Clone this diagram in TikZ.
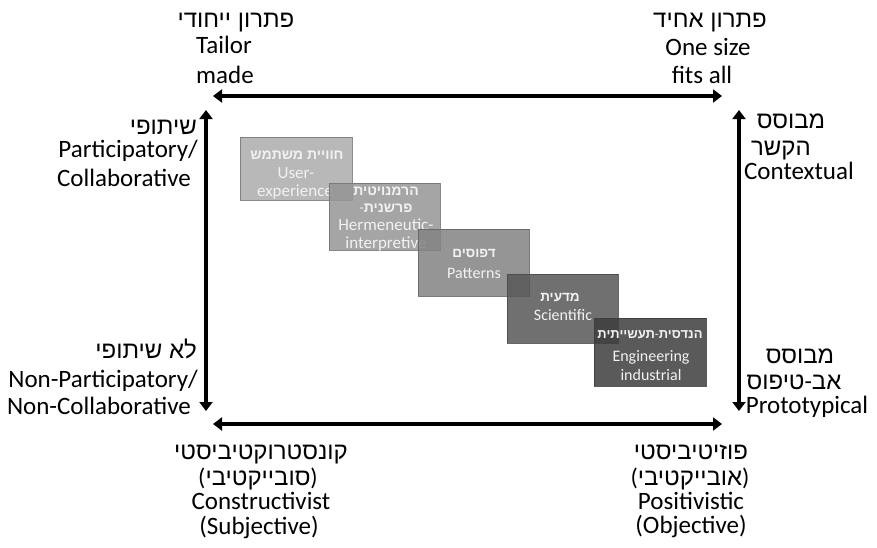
\documentclass[tikz,border=0pt]{standalone}
\usepackage{fontspec}
\setmainfont{Carlito}
\newfontfamily\heb[Script=Hebrew]{Liberation Sans}
\TeXXeTstate=1
\newcommand\hb[1]{{\heb\beginR #1\endR}}
\newcommand\hbb[1]{{\heb\bfseries\beginR #1\endR}}
\usetikzlibrary{arrows.meta}
\definecolor{bxA}{RGB}{171,171,171}
\definecolor{bxB}{RGB}{149,149,149}
\definecolor{bxC}{RGB}{131,131,131}
\definecolor{bxD}{RGB}{87,87,87}
\definecolor{bxE}{RGB}{61,61,61}
\definecolor{bdA}{RGB}{120,120,120}
\definecolor{bdB}{RGB}{115,115,115}
\definecolor{bdC}{RGB}{100,100,100}
\definecolor{bdD}{RGB}{75,75,75}
\definecolor{bdE}{RGB}{60,60,60}
\definecolor{btxt}{RGB}{242,242,242}
\begin{document}
\begin{tikzpicture}[x=1pt,y=-1pt,
  lbl/.style={font=\fontsize{25}{28}\selectfont, inner sep=0pt, anchor=base},
  lbh/.style={font=\fontsize{24}{28}\selectfont, inner sep=0pt, anchor=base},
  lble/.style={lbl, anchor=base east},
  lbhe/.style={lbh, anchor=base east},
  arr/.style={line width=4pt, {Triangle[width=13pt,length=9pt]}-{Triangle[width=13pt,length=9pt]}},
  cbox/.style={anchor=north west, minimum width=111pt, minimum height=66pt, inner sep=0pt, line width=0.8pt, fill opacity=0.85, draw opacity=0.85},
  btx/.style={font=\fontsize{16}{18}\selectfont, text=btxt, inner sep=0pt, anchor=base},
  btxl/.style={font=\fontsize{17}{18}\selectfont, text=btxt, inner sep=0pt, anchor=base},
  bth/.style={font=\fontsize{13.5}{16}\selectfont, text=btxt, inner sep=0pt, anchor=base}
]
\useasboundingbox (0,0) rectangle (877,547);

% arrows
\coordinate (tA) at (213,96);
\coordinate (tB) at (722,96);
\coordinate (bA) at (213,424);
\coordinate (bB) at (722,424);
\coordinate (lA) at (206,110);
\coordinate (lB) at (206,411);
\coordinate (rA) at (739,110);
\coordinate (rB) at (739,411);
\draw[arr] (tA) -- (tB);
\draw[arr] (bA) -- (bB);
\draw[arr] (lA) -- (lB);
\draw[arr] (rA) -- (rB);

% top left
\node[lbh] (tl1) at (236,27) {\hb{פתרון ייחודי}};
\node[lbl] (tl2) at (224,53) {Tailor};
\node[lbl] (tl3) at (225,83) {made};
% top right
\node[lbh] (tr1) at (710,27) {\hb{פתרון אחיד}};
\node[lbl] (tr2) at (708,55) {One size};
\node[lbl] (tr3) at (702,83) {fits all};
% left upper
\node[lbhe] (lu1) at (197,134) {\hb{שיתופי}};
\node[lble] (lu2) at (198,157) {Participatory/};
\node[lble] (lu3) at (191,186) {Collaborative};
% left lower
\node[lbhe] (ll1) at (197,358) {\hb{לא שיתופי}};
\node[lble] (ll2) at (198,387) {Non-Participatory/};
\node[lble] (ll3) at (191,414) {Non-Collaborative};
% right upper
\node[lbh] (ru1) at (791,128) {\hb{מבוסס}};
\node[lbh] (ru2) at (781,155) {\hb{הקשר}};
\node[lbl] (ru3) at (799,179) {Contextual};
% right lower
\node[lbh] (rl1) at (800,363) {\hb{מבוסס}};
\node[lbh] (rl2) at (794,389) {\hb{טיפוס}-\hb{אב}};
\node[lbl] (rl3) at (807,413) {Prototypical};
% bottom left
\node[lbh] (bl1) at (261,459) {\hb{קונסטרוקטיביסטי}};
\node[lbh] (bl2) at (258,485) {(\hb{סובייקטיבי})};
\node[lbl] (bl3) at (261,509) {Constructivist};
\node[lbl] (bl4) at (259,534) {(Subjective)};
% bottom right
\node[lbh] (br1) at (691,459) {\hb{פוזיטיביסטי}};
\node[lbh] (br2) at (690,485) {(\hb{אובייקטיבי})};
\node[lbl] (br3) at (691,509) {Positivistic};
\node[lbl] (br4) at (691,533) {(Objective)};

% boxes
\node[cbox, fill=bxA, draw=bdA, minimum height=63pt, minimum width=112pt] (b1) at (240,137) {};
\node[bth, font=\fontsize{14}{16}\selectfont] (b1a) at (297,159) {\hbb{חוויית משתמש}};
\node[btxl] (b1b) at (296,178) {User-};
\node[btxl] (b1c) at (295,196) {experience};

\node[cbox, fill=bxB, draw=bdB, minimum height=67pt] (b2) at (329,183) {};
\node[bth, font=\fontsize{14}{16}\selectfont] (b2a) at (386,195) {\hbb{הרמנויטית}};
\node[bth, font=\fontsize{14}{16}\selectfont] (b2b) at (386,212) {-\hbb{פרשנית}};
\node[btxl] (b2c) at (386,230) {Hermeneutic-};
\node[btxl] (b2d) at (386,248) {interpretive};

\node[cbox, fill=bxC, draw=bdC, minimum height=67pt] (b3) at (418,229) {};
\node[bth] (b3a) at (474,257) {\hbb{דפוסים}};
\node[btx] (b3b) at (474,278) {Patterns};

\node[cbox, fill=bxD, draw=bdD, minimum height=69pt] (b4) at (507,274) {};
\node[bth] (b4a) at (560,301) {\hbb{מדעית}};
\node[btx] (b4b) at (563,320) {Scientific};

\node[cbox, fill=bxE, draw=bdE, minimum height=68pt, minimum width=112pt] (b5) at (594,318) {};
\node[bth, font=\fontsize{13}{16}\selectfont] (b5a) at (650,338) {\hbb{תעשייתית}-\hbb{הנדסית}};
\node[btx] (b5b) at (651,361) {Engineering};
\node[btx] (b5c) at (651,380) {industrial};
\end{tikzpicture}
\end{document}
